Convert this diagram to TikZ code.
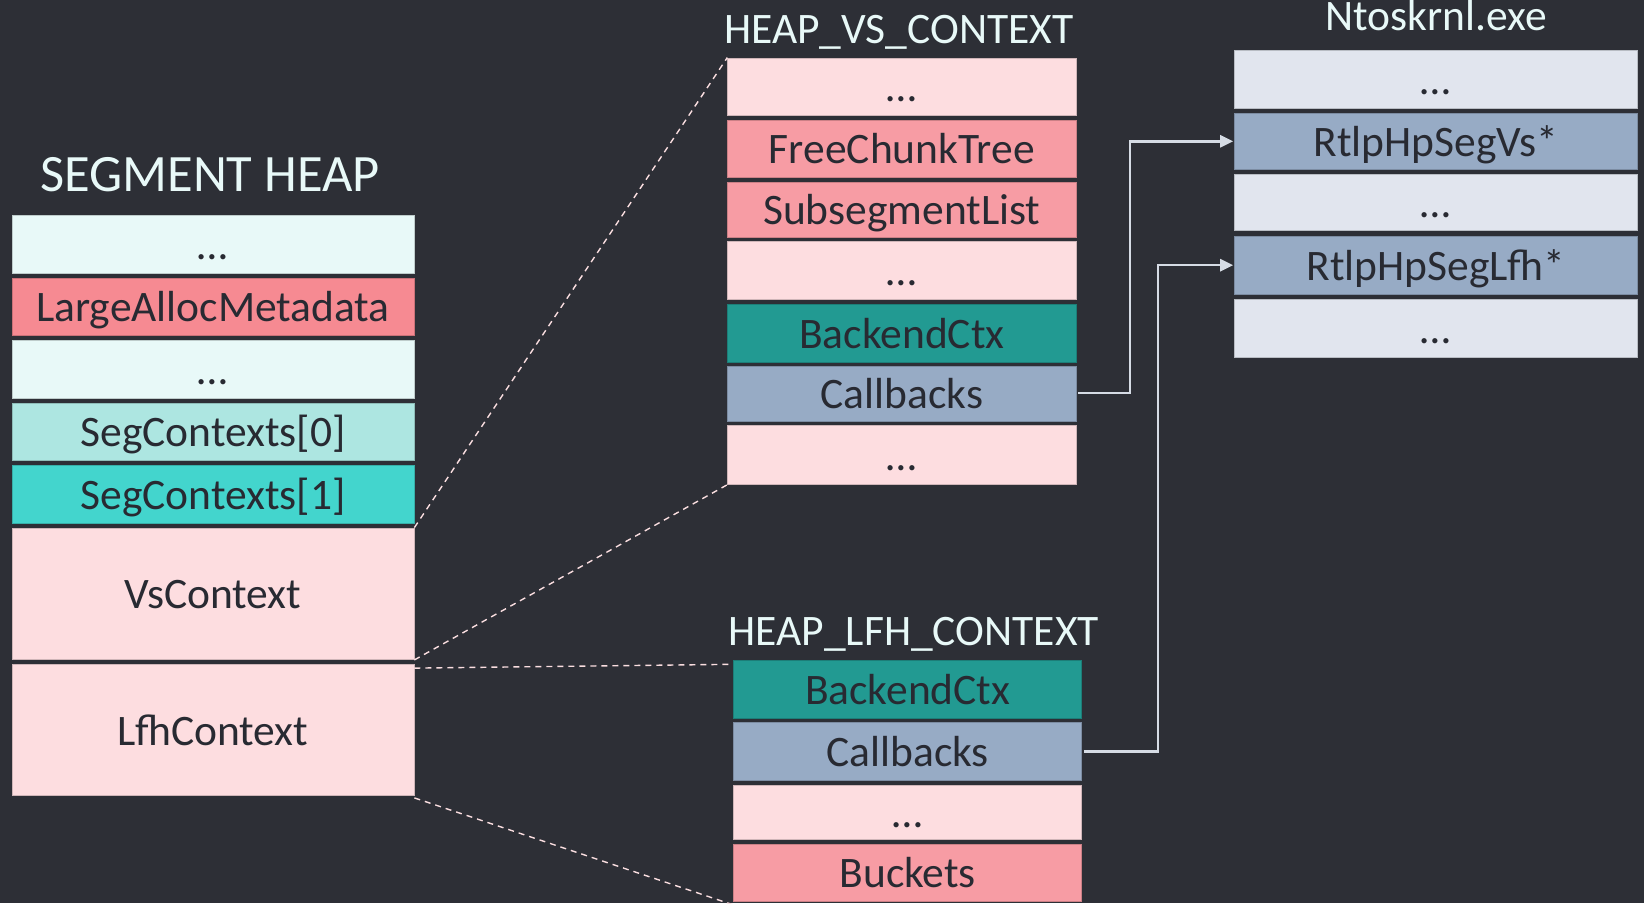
\documentclass[tikz,border=0pt]{standalone}
\usepackage{fontspec}
\setmainfont{Carlito}
\usetikzlibrary{arrows.meta}

\definecolor{bg}{RGB}{45,47,54}
\definecolor{ink}{RGB}{40,42,50}
\definecolor{titlec}{RGB}{232,249,248}
\definecolor{mint}{RGB}{232,249,248}
\definecolor{salmon}{RGB}{246,138,146}
\definecolor{aqua}{RGB}{173,230,225}
\definecolor{turq}{RGB}{67,213,205}
\definecolor{blush}{RGB}{253,221,224}
\definecolor{rose}{RGB}{247,156,164}
\definecolor{teal}{RGB}{34,154,146}
\definecolor{steel}{RGB}{151,171,197}
\definecolor{mist}{RGB}{225,229,238}
\definecolor{wire}{RGB}{214,220,229}
\definecolor{dashc}{RGB}{250,222,224}

% one field of a structure: name, x1, y1, x2, y2, fill, label
\newcommand{\mcell}[7]{%
  \node[cell, fill=#6, draw=#6!82!black,
        minimum width={(#4)-(#2)}, minimum height={(#5)-(#3)}]
    (#1) at ({((#2)+(#4))/2},{((#3)+(#5))/2}) {#7};}

\begin{document}
\begin{tikzpicture}[x=1pt,y=-1pt,
  cell/.style={rectangle, inner sep=0pt, line width=0.8pt,
    text height=30pt, text depth=0pt, text=ink,
    font=\fontsize{43.5}{50}\selectfont},
  title/.style={inner sep=0pt, text=titlec,
    font=\fontsize{43.5}{50}\selectfont},
  link/.style={draw=wire, line width=2.5pt,
    -{Triangle[length=13pt,width=12pt]}},
  zoomline/.style={draw=dashc, line width=1.4pt,
    dash pattern=on 6pt off 5pt}]

\useasboundingbox (0,0) rectangle (1644,903);
\fill[bg] (0,0) rectangle (1644,903);

% SEGMENT HEAP
\node[title, anchor=base, font=\fontsize{52.5}{60}\selectfont] (tseg) at (210,191.7) {SEGMENT HEAP};
\mcell{sh1}{12}{215.5}{414}{273}{mint}{…}
\mcell{sh2}{12}{278}{414}{335.5}{salmon}{LargeAllocMetadata}
\mcell{sh3}{12}{340.5}{414}{398}{mint}{…}
\mcell{sh4}{12}{403}{414}{460.5}{aqua}{SegContexts[0]}
\mcell{sh5}{12}{465.5}{414}{523}{turq}{SegContexts[1]}
\mcell{vsctx}{12}{528}{414}{659.5}{blush}{VsContext}
\mcell{lfhctx}{12}{664.5}{414}{795.5}{blush}{LfhContext}

% HEAP_VS_CONTEXT
\node[title, anchor=base west] (tvs) at (724,43.3) {HEAP\_VS\_CONTEXT};
\mcell{vs1}{727.7}{58}{1076}{115.3}{blush}{…}
\mcell{vs2}{727.7}{120}{1076}{177.7}{rose}{FreeChunkTree}
\mcell{vs3}{727.7}{182.7}{1076}{237}{rose}{SubsegmentList}
\mcell{vs4}{727.7}{241.7}{1076}{299.3}{blush}{…}
\mcell{vs5}{727.7}{304}{1076}{362}{teal}{BackendCtx}
\mcell{vscb}{727.7}{366.7}{1076}{421}{steel}{Callbacks}
\mcell{vs7}{727.7}{425.7}{1076}{484.3}{blush}{…}

% Ntoskrnl.exe
\node[title, anchor=base] (tnt) at (1436,30.7) {Ntoskrnl.exe};
\mcell{nt1}{1234.6}{50}{1637}{108.3}{mist}{…}
\mcell{segvs}{1234.6}{113.3}{1637}{169.3}{steel}{RtlpHpSegVs*}
\mcell{nt3}{1234.6}{174}{1637}{230.7}{mist}{…}
\mcell{seglfh}{1234.6}{236}{1637}{294.3}{steel}{RtlpHpSegLfh*}
\mcell{nt5}{1234.6}{299.3}{1637}{357.7}{mist}{…}

% HEAP_LFH_CONTEXT
\node[title, anchor=base west] (tlfh) at (728.5,645.7) {HEAP\_LFH\_CONTEXT};
\mcell{lfh1}{733.7}{660.7}{1081.7}{718}{teal}{BackendCtx}
\mcell{lfhcb}{733.7}{722.7}{1081.7}{780.7}{steel}{Callbacks}
\mcell{lfh3}{733.7}{785.3}{1081.7}{839.3}{blush}{…}
\mcell{lfh4}{733.7}{844.3}{1081.7}{901.5}{rose}{Buckets}

% expansion guides
\draw[zoomline] (vsctx.north east) -- (vs1.north west);
\draw[zoomline] (vsctx.south east) -- (vs7.south west);
\draw[zoomline] ([yshift=-4pt]lfhctx.north east) -- ([yshift=-4pt]lfh1.north west);
\draw[zoomline] ([yshift=-2pt]lfhctx.south east) -- ([yshift=-3pt]lfh4.south west);

% callback pointers
\coordinate (jvs) at (1130,0);
\coordinate (jlfh) at (1158,0);
\draw[link] ([xshift=2pt,yshift=1pt]vscb.east) -| (jvs |- segvs.west) -- ([xshift=-1pt]segvs.west);
\draw[link] ([xshift=2pt]lfhcb.east) -| (jlfh |- seglfh.west) -- ([xshift=-1pt]seglfh.west);

\end{tikzpicture}
\end{document}
